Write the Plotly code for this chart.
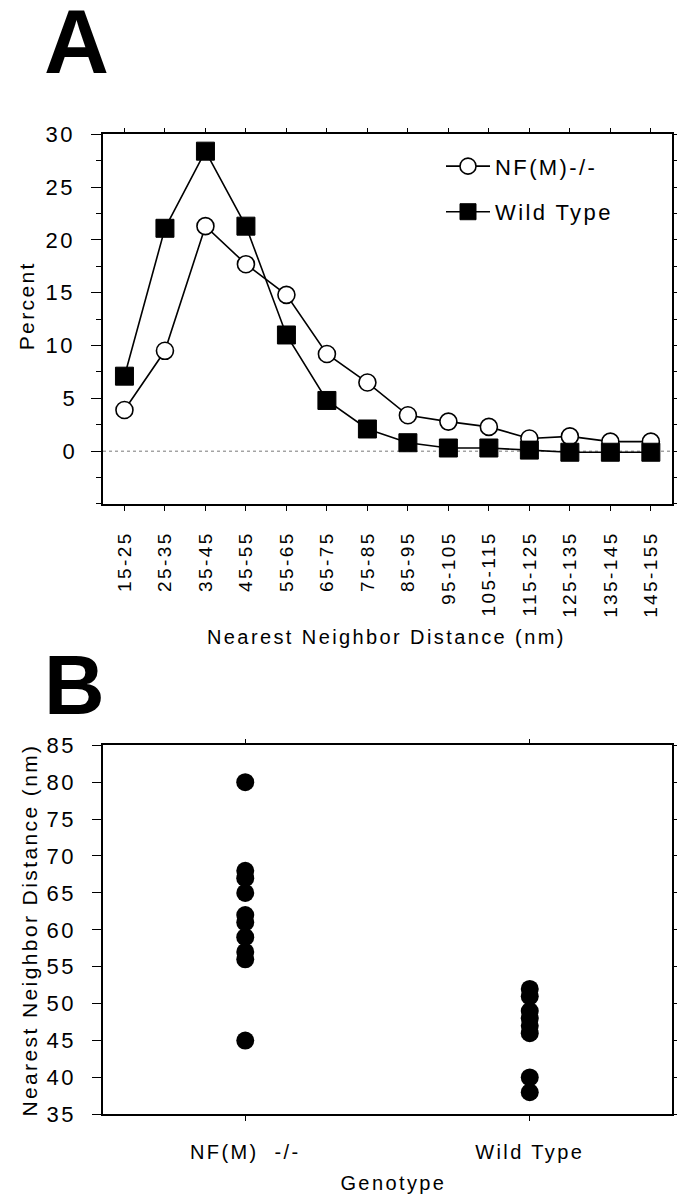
import plotly.graph_objects as go

# ---------------- data ----------------
bins = ["15-25", "25-35", "35-45", "45-55", "55-65", "65-75", "75-85", "85-95",
        "95-105", "105-115", "115-125", "125-135", "135-145", "145-155"]
nfm_percent = [3.9, 9.5, 21.3, 17.7, 14.8, 9.2, 6.5, 3.4, 2.8, 2.3, 1.2, 1.4, 0.9, 0.9]
wt_percent = [7.1, 21.1, 28.4, 21.3, 11.0, 4.8, 2.1, 0.8, 0.3, 0.3, 0.1, -0.1, -0.1, -0.1]

genotypes = ["NF(M)  -/-", "Wild Type"]
nfm_nnd = [80, 68, 67, 65, 62, 61, 59, 57, 56, 45]
wt_nnd = [52, 51, 49, 48, 47, 46, 40, 38]

W, H = 685, 1199
FONT = "Liberation Sans, Arial, sans-serif"


def px_x(p):
    return p / W


def px_y(p):
    return 1 - p / H


fig = go.Figure()

# Panel A traces
fig.add_trace(go.Scatter(
    x=bins, y=nfm_percent, mode="lines+markers", name="NF(M)-/-",
    line=dict(color="black", width=1.6),
    marker=dict(symbol="circle", size=17, color="white",
                line=dict(color="black", width=1.6)),
    xaxis="x", yaxis="y", legendgroup="a"))
fig.add_trace(go.Scatter(
    x=bins, y=wt_percent, mode="lines+markers", name="Wild Type",
    line=dict(color="black", width=1.6),
    marker=dict(symbol="square", size=18, color="black",
                line=dict(color="black", width=1)),
    xaxis="x", yaxis="y", legendgroup="b"))

# Panel B traces
fig.add_trace(go.Scatter(
    x=[genotypes[0]] * len(nfm_nnd), y=nfm_nnd, mode="markers",
    marker=dict(symbol="circle", size=18, color="black"),
    xaxis="x2", yaxis="y2", showlegend=False))
fig.add_trace(go.Scatter(
    x=[genotypes[1]] * len(wt_nnd), y=wt_nnd, mode="markers",
    marker=dict(symbol="circle", size=18, color="black"),
    xaxis="x2", yaxis="y2", showlegend=False))

axis_common = dict(showline=True, linecolor="black", linewidth=1.5,
                   mirror="allticks", ticks="outside", tickcolor="black",
                   tickwidth=1.3, showgrid=False, zeroline=False)

fig.update_layout(
    width=W, height=H, autosize=False,
    margin=dict(l=0, r=0, t=0, b=0),
    paper_bgcolor="white", plot_bgcolor="white",
    font=dict(family=FONT, color="black"),
    showlegend=True,
    legend=dict(x=px_x(433), y=px_y(128), xanchor="left", yanchor="top",
                bgcolor="rgba(0,0,0,0)", font=dict(size=22, family=FONT),
                tracegroupgap=14, itemwidth=44),
    xaxis=dict(domain=[px_x(95), px_x(663.5)], anchor="y",
               type="category", categoryorder="array", categoryarray=bins,
               range=[-0.53, 13.51], ticklen=5, tickangle=-90,
               tickfont=dict(size=19), ticklabelstandoff=13,
               **axis_common),
    yaxis=dict(domain=[px_y(494.3), px_y(116.7)], anchor="x",
               range=[-5, 30], tickvals=[0, 5, 10, 15, 20, 25, 30],
               ticklen=10, tickfont=dict(size=22), ticklabelstandoff=12,
               minor=dict(dtick=2.5, tick0=0, ticklen=5, ticks="outside",
                          tickcolor="black", tickwidth=1.3, showgrid=False),
               **axis_common),
    xaxis2=dict(domain=[px_x(95), px_x(664)], anchor="y2",
                type="category", categoryorder="array", categoryarray=genotypes,
                range=[-0.5, 1.5], ticklen=5, tickfont=dict(size=20),
                ticklabelstandoff=14, **axis_common),
    yaxis2=dict(domain=[px_y(1117.7), px_y(740.7)], anchor="x2",
                range=[35, 85], dtick=5, tick0=35, ticklen=9,
                tickfont=dict(size=22), ticklabelstandoff=12,
                **axis_common),
)

# zero reference line in panel A
fig.add_shape(type="line", xref="x domain", yref="y", x0=0, x1=1, y0=0, y1=0,
              line=dict(color="#777777", width=1, dash="dot"), layer="below")

annotations = [
    dict(text="<b>A</b>", x=px_x(34), y=px_y(22), xanchor="left", yanchor="middle",
         font=dict(size=90, family=FONT)),
    dict(text="<b>B</b>", x=px_x(34), y=px_y(679), xanchor="left", yanchor="middle",
         font=dict(size=84, family=FONT)),
    dict(text="Percent", x=px_x(19), y=px_y(292), textangle=-90,
         xanchor="center", yanchor="middle", font=dict(size=21, family=FONT)),
    dict(text="Nearest Neighbor Distance (nm)", x=px_x(378), y=px_y(630),
         xanchor="center", yanchor="middle", font=dict(size=20, family=FONT)),
    dict(text="Nearest Neighbor Distance (nm)", x=px_x(22), y=px_y(930),
         textangle=-90, xanchor="center", yanchor="middle",
         font=dict(size=21, family=FONT)),
    dict(text="Genotype", x=px_x(385), y=px_y(1188), xanchor="center",
         yanchor="middle", font=dict(size=20, family=FONT)),
]
for a in annotations:
    a.update(xref="paper", yref="paper", showarrow=False)
fig.update_layout(annotations=annotations)

# The original figure uses widely tracked lettering; reproduce the tracking,
# and let the legend texts extend past plotly's pre-computed legend box.
post_js = """
var gd = document.getElementById('{plot_id}');
gd.querySelectorAll('text').forEach(function(t) {
    var s = (t.textContent || '').trim();
    if (s.length > 1) { t.style.letterSpacing = '2.4px'; }
});
gd.querySelectorAll('.legend [clip-path]').forEach(function(e) {
    e.removeAttribute('clip-path');
});
gd.querySelectorAll('.legend .bg').forEach(function(e) {
    e.style.pointerEvents = 'none';
});
"""

fig.write_html("out.html", post_script=post_js)
